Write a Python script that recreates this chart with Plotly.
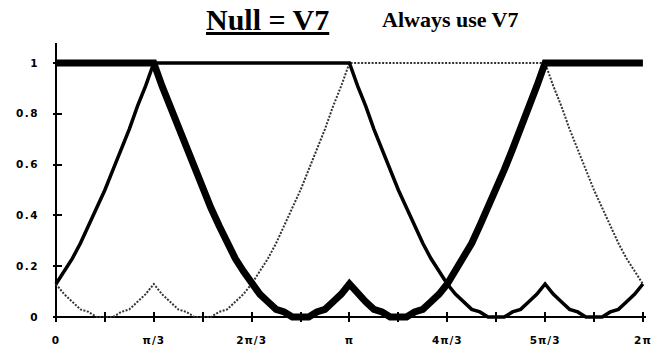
import plotly.graph_objects as go

# Electrical angle in degrees, sampled every 5 degrees over one period
angle_deg = list(range(0, 361, 5))

# Duty cycle of each phase leg with the null vector always V7
duty_a = [1, 1, 1, 1, 1, 1, 1, 1, 1, 1, 1, 1, 1,
          0.91, 0.83, 0.74, 0.66, 0.58, 0.50, 0.43, 0.36, 0.29, 0.23, 0.18, 0.13,
          0.09, 0.06, 0.03, 0.02, 0.00, 0.00, 0.00, 0.02, 0.03, 0.06, 0.09, 0.13,
          0.09, 0.06, 0.03, 0.02, 0.00, 0.00, 0.00, 0.02, 0.03, 0.06, 0.09, 0.13,
          0.18, 0.23, 0.29, 0.36, 0.43, 0.50, 0.58, 0.66, 0.74, 0.83, 0.91, 1,
          1, 1, 1, 1, 1, 1, 1, 1, 1, 1, 1, 1]

duty_b = [0.13, 0.18, 0.23, 0.29, 0.36, 0.43, 0.50, 0.58, 0.66, 0.74, 0.83, 0.91, 1,
          1, 1, 1, 1, 1, 1, 1, 1, 1, 1, 1, 1,
          1, 1, 1, 1, 1, 1, 1, 1, 1, 1, 1, 1,
          0.91, 0.83, 0.74, 0.66, 0.58, 0.50, 0.43, 0.36, 0.29, 0.23, 0.18, 0.13,
          0.09, 0.06, 0.03, 0.02, 0.00, 0.00, 0.00, 0.02, 0.03, 0.06, 0.09, 0.13,
          0.09, 0.06, 0.03, 0.02, 0.00, 0.00, 0.00, 0.02, 0.03, 0.06, 0.09, 0.13]

duty_c = [0.13, 0.09, 0.06, 0.03, 0.02, 0.00, 0.00, 0.00, 0.02, 0.03, 0.06, 0.09, 0.13,
          0.09, 0.06, 0.03, 0.02, 0.00, 0.00, 0.00, 0.02, 0.03, 0.06, 0.09, 0.13,
          0.18, 0.23, 0.29, 0.36, 0.43, 0.50, 0.58, 0.66, 0.74, 0.83, 0.91, 1,
          1, 1, 1, 1, 1, 1, 1, 1, 1, 1, 1, 1,
          1, 1, 1, 1, 1, 1, 1, 1, 1, 1, 1, 1,
          0.91, 0.83, 0.74, 0.66, 0.58, 0.50, 0.43, 0.36, 0.29, 0.23, 0.18, 0.13]

x_tick_vals = [0, 30, 60, 90, 120, 150, 180, 210, 240, 270, 300, 330, 360]
x_tick_text = ["0", "", "π/3", "", "2π/3", "", "π", "", "4π/3", "", "5π/3", "", "2π"]
y_tick_vals = [0, 0.2, 0.4, 0.6, 0.8, 1]
y_tick_text = ["0", "0.2", "0.4", "0.6", "0.8", "1"]


def spaced(label, gap="1.5px"):
    return f'<span style="letter-spacing:{gap}">{label}</span>'


fig = go.Figure()

fig.add_trace(go.Scatter(x=angle_deg, y=duty_c, mode="lines",
                         line=dict(color="#333333", width=2, dash="2px,1.5px"),
                         showlegend=False))
fig.add_trace(go.Scatter(x=angle_deg, y=duty_b, mode="lines",
                         line=dict(color="#000000", width=3.5),
                         showlegend=False))
fig.add_trace(go.Scatter(x=angle_deg, y=duty_a, mode="lines",
                         line=dict(color="#000000", width=7),
                         showlegend=False))

tick_font = dict(family="DejaVu Sans", size=10.5, color="#000000", weight="bold")

fig.update_layout(
    width=654, height=350,
    margin=dict(l=53, r=2, t=43, b=28, pad=0),
    paper_bgcolor="white", plot_bgcolor="white",
    xaxis=dict(range=[-1.82, 361.9], showgrid=False, showline=False,
               zeroline=True, zerolinecolor="black", zerolinewidth=2,
               tickmode="array", tickvals=x_tick_vals,
               ticktext=[spaced(t, "1px") if t else t for t in x_tick_text],
               ticks="inside", ticklen=10, tickwidth=1.5, tickcolor="black",
               ticklabelstandoff=10, ticklabeloverflow="allow", tickfont=tick_font),
    yaxis=dict(range=[-0.0197, 1.0787], showgrid=False, showline=False,
               zeroline=True, zerolinecolor="black", zerolinewidth=2,
               tickmode="array", tickvals=y_tick_vals,
               ticktext=[spaced(t) for t in y_tick_text],
               ticks="inside", ticklen=9, tickwidth=1.5, tickcolor="black",
               ticklabelstandoff=13, tickfont=tick_font),
    annotations=[
        dict(text="<b><u>Null = V7</u></b>", xref="paper", yref="paper",
             x=0.2538, y=1.085, xanchor="left", yanchor="middle", showarrow=False,
             font=dict(family="Liberation Serif", size=30, color="black")),
        dict(text="<b>Always use V7</b>", xref="paper", yref="paper",
             x=0.551, y=1.085, xanchor="left", yanchor="middle", showarrow=False,
             font=dict(family="Liberation Serif", size=22, color="black")),
    ],
)

fig.write_html("out.html")
